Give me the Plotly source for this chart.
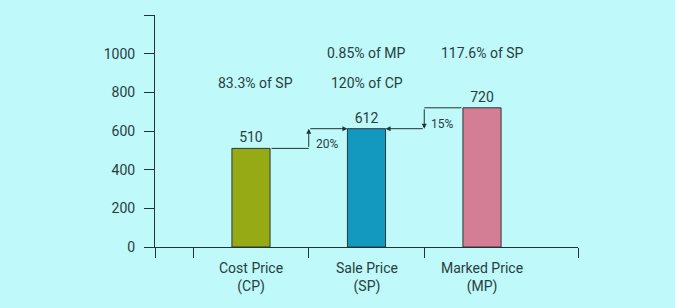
import plotly.graph_objects as go

categories = ["Cost Price<br>(CP)", "Sale Price<br>(SP)", "Marked Price<br>(MP)"]
values = [510, 612, 720]
colors = ["#95aa14", "#1399c0", "#d47e96"]
top_notes = ["", "0.85% of MP", "117.6% of SP"]
mid_notes = ["83.3% of SP", "120% of CP", ""]
steps = ["20%", "15%"]
y_ticks = [0, 200, 400, 600, 800, 1000, 1200]
y_tick_text = ["0", "200", "400", "600", "800", "1000", ""]

TXT = "#27403f"
AX = "#1f3535"
FONT = "Roboto"
bw = 0.33
xs = list(range(len(categories)))

fig = go.Figure()
fig.add_trace(go.Bar(
    x=xs, y=values, width=bw, marker=dict(color=colors, line=dict(color="#2b3838", width=1)),
    text=[str(v) for v in values], textposition="outside", cliponaxis=False,
    textfont=dict(family=FONT, size=14, color=TXT), hoverinfo="skip"))

ann = []
for i, c in enumerate(categories):
    ann.append(dict(x=i, y=0, xref="x", yref="y", text=c, showarrow=False, yanchor="top",
                    yshift=-11, font=dict(family=FONT, size=14, color=TXT)))
    if top_notes[i]:
        ann.append(dict(x=i, y=1005, xref="x", yref="y", text=top_notes[i], showarrow=False,
                        font=dict(family=FONT, size=14, color=TXT)))
    if mid_notes[i]:
        ann.append(dict(x=i + (0.04 if i == 0 else 0), y=850, xref="x", yref="y", text=mid_notes[i], showarrow=False,
                        font=dict(family=FONT, size=14, color=TXT)))

def seg(x0, y0, x1, y1, head):
    return dict(x=x1, y=y1, ax=x0, ay=y0, xref="x", yref="y", axref="x", ayref="y",
                showarrow=True, arrowhead=2 if head else 0, arrowsize=1, arrowwidth=1,
                arrowcolor=AX, text="", standoff=0, startstandoff=0)

# CP -> SP
b = 0.5
ann.append(seg(0 + bw / 2, values[0], b, values[0], False))
ann.append(seg(b, values[0], b, values[1], True))
ann.append(seg(b, values[1], 1 - bw / 2, values[1], True))
ann.append(dict(x=0.655, y=(values[0] + values[1]) / 2 - 30, xref="x", yref="y", text=steps[0],
                showarrow=False, font=dict(family=FONT, size=12, color=TXT)))
# MP -> SP
b = 1.5
ann.append(seg(2 - bw / 2, values[2], b, values[2], False))
ann.append(seg(b, values[2], b, values[1], True))
ann.append(seg(b, values[1], 1 + bw / 2, values[1], True))
ann.append(dict(x=1.655, y=(values[1] + values[2]) / 2 - 32, xref="x", yref="y", text=steps[1],
                showarrow=False, font=dict(family=FONT, size=12, color=TXT)))

fig.update_layout(
    width=675, height=308, margin=dict(l=155, r=97, t=15, b=61),
    paper_bgcolor="#bff9f9", plot_bgcolor="#bff9f9", showlegend=False,
    annotations=ann,
    xaxis=dict(range=[-0.831, 2.831], showgrid=False, zeroline=False, showticklabels=False,
               tickmode="array", tickvals=[-0.831, -0.5, 0.5, 1.5, 2.831], ticks="outside",
               ticklen=10, tickcolor=AX, tickwidth=1, showline=True, linecolor=AX, linewidth=1),
    yaxis=dict(range=[0, 1200], tickmode="array", tickvals=y_ticks, ticktext=y_tick_text,
               ticks="outside", ticklen=10, tickcolor=AX, tickwidth=1, showgrid=False, zeroline=False,
               showline=True, linecolor=AX, linewidth=1, ticklabelstandoff=6,
               tickfont=dict(family=FONT, size=14, color=TXT)),
)
fig.write_html("out.html")
